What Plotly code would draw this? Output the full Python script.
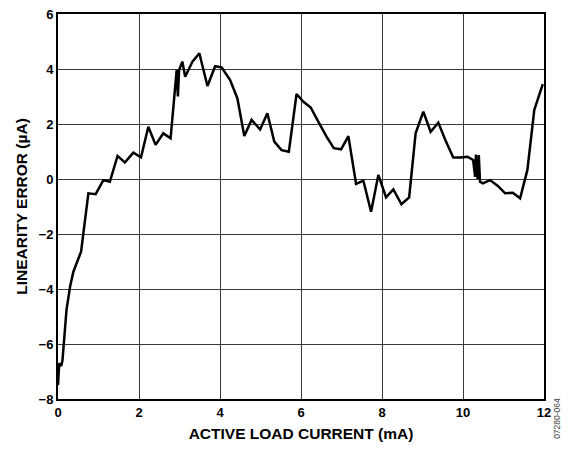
import plotly.graph_objects as go

# active load current (mA) and linearity error (uA)
current_ma = [
    0.0, 0.03, 0.08, 0.11, 0.21, 0.30, 0.38, 0.57, 0.75, 0.93, 1.12, 1.28,
    1.47, 1.65, 1.86, 2.05, 2.23, 2.41, 2.60, 2.78, 2.93, 2.96, 2.99, 3.07,
    3.14, 3.32, 3.49, 3.69, 3.88, 4.04, 4.25, 4.43, 4.60, 4.78, 4.99, 5.17,
    5.34, 5.52, 5.70, 5.89, 6.06, 6.24, 6.43, 6.63, 6.81, 6.99, 7.17, 7.36,
    7.54, 7.73, 7.91, 8.10, 8.28, 8.48, 8.67, 8.83, 9.02, 9.20, 9.39, 9.58,
    9.76, 9.94, 10.11, 10.25, 10.30, 10.32, 10.36, 10.39, 10.42, 10.49, 10.67,
    10.86, 11.04, 11.23, 11.41, 11.59, 11.76, 11.97,
]
linearity_error_ua = [
    -7.5, -6.7, -6.8, -6.6, -4.76, -3.9, -3.37, -2.64, -0.52, -0.55, -0.04, -0.1,
    0.84, 0.6, 0.96, 0.79, 1.9, 1.24, 1.66, 1.48, 3.96, 3.0, 3.96, 4.27,
    3.72, 4.27, 4.57, 3.38, 4.1, 4.06, 3.6, 2.93, 1.56, 2.15, 1.8, 2.39,
    1.36, 1.05, 0.99, 3.09, 2.81, 2.6, 2.08, 1.54, 1.12, 1.08, 1.56, -0.18,
    -0.06, -1.19, 0.15, -0.67, -0.38, -0.92, -0.67, 1.66, 2.45, 1.72, 2.05, 1.36,
    0.78, 0.78, 0.81, 0.69, 0.08, 0.89, 0.0, 0.87, -0.1, -0.16, -0.04,
    -0.25, -0.52, -0.5, -0.7, 0.33, 2.51, 3.45,
]

fig = go.Figure()
fig.add_trace(
    go.Scatter(
        x=current_ma,
        y=linearity_error_ua,
        mode="lines",
        line=dict(color="black", width=2.5),
        showlegend=False,
    )
)

axis_common = dict(
    showline=True,
    linecolor="black",
    linewidth=2,
    mirror=True,
    showgrid=True,
    gridcolor="#3a3a3a",
    gridwidth=1,
    zeroline=False,
    ticks="",
    automargin=False,
    ticklabeloverflow="allow",
    tickfont=dict(family="Liberation Sans, Arial", size=13, color="black", weight="bold"),
)

# the page body has an 8px margin, so the figure is a bit smaller than the window
fig.update_layout(
    width=556,
    height=435,
    margin=dict(l=50, r=20, t=6, b=44),
    plot_bgcolor="white",
    paper_bgcolor="white",
    font=dict(family="Liberation Sans, Arial", color="black"),
    xaxis=dict(
        range=[0, 12],
        dtick=2,
        title=dict(
            text="ACTIVE LOAD CURRENT (mA)",
            font=dict(size=15.5, weight="bold"),
            standoff=10,
        ),
        **axis_common,
    ),
    yaxis=dict(
        range=[-8, 6],
        dtick=2,
        title=dict(
            text="LINEARITY ERROR (µA)",
            font=dict(size=15.5, weight="bold"),
            standoff=7,
        ),
        **axis_common,
    ),
)

fig.add_annotation(
    text="07280-064",
    xref="paper",
    yref="paper",
    x=1.028,
    y=-0.05,
    xanchor="center",
    yanchor="middle",
    textangle=-90,
    showarrow=False,
    font=dict(size=8.5, color="#444"),
)

fig.write_html("out.html")
